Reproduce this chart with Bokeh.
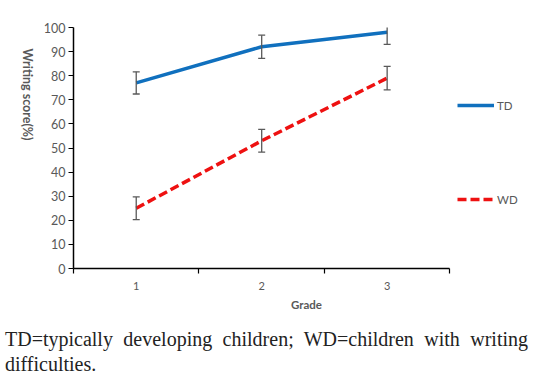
import math
from bokeh.plotting import figure
from bokeh.layouts import column, row
from bokeh.models import (ColumnDataSource, FixedTicker, Legend, LegendItem, Range1d, Div, Label)
from bokeh.embed import file_html
from bokeh.resources import INLINE

# ---- data ----
grades = [1, 2, 3]
grade_labels = ["1", "2", "3"]
td_scores = [77, 92, 98]
td_errors = [4.6, 4.8, 5.0]
wd_scores = [25, 53, 79]
wd_errors = [4.7, 4.7, 4.9]
y_ticks = [0, 10, 20, 30, 40, 50, 60, 70, 80, 90, 100]
series_names = ["TD", "WD"]
y_title = "Writing score(%)"
x_title = "Grade"
caption_text = "TD=typically developing children; WD=children with writing difficulties."

AX_FONT = "Lato"
GREY = "#595959"
BLUE = "#1070BE"
RED = "#EE1111"
W = 539
FIG_H = 322
TITLE_W = 40

# narrow strip holding the y-axis title (reads top to bottom)
t = figure(width=TITLE_W, height=FIG_H, output_backend="svg", toolbar_location=None,
           x_axis_type=None, y_axis_type=None,
           min_border_left=0, min_border_right=0, min_border_top=0, min_border_bottom=0)
t.outline_line_color = None
t.xgrid.visible = False
t.ygrid.visible = False
t.add_layout(Label(x=27, y=FIG_H - 148, x_units="screen", y_units="screen",
                   text=y_title, angle=-math.pi / 2,
                   text_align="center", text_baseline="middle",
                   text_font=AX_FONT, text_font_size="12.5px",
                   text_font_style="bold", text_color=GREY))

p = figure(width=W - TITLE_W, height=FIG_H, output_backend="svg", toolbar_location=None,
           x_range=Range1d(0.5, 3.5 + 90 / 126), y_range=Range1d(0, 100),
           min_border_left=71 - TITLE_W, min_border_right=0, min_border_top=27, min_border_bottom=54)
p.outline_line_color = None
p.xgrid.visible = False
p.ygrid.visible = False
p.background_fill_color = "white"
p.border_fill_color = "white"

def src(scores, errs):
    return ColumnDataSource(dict(
        x=grades, y=scores,
        lo=[s - e for s, e in zip(scores, errs)],
        hi=[s + e for s, e in zip(scores, errs)]))

td_src = src(td_scores, td_errors)
wd_src = src(wd_scores, wd_errors)

td_line = p.line("x", "y", source=td_src, line_color=BLUE, line_width=3.5)
wd_line = p.line("x", "y", source=wd_src, line_color=RED, line_width=3.5, line_dash="9 4")

for s in (td_src, wd_src):
    p.segment("x", "lo", "x", "hi", source=s, line_color=GREY, line_width=1.3)
    p.scatter("x", "lo", source=s, marker="dash", size=7, line_color=GREY, line_width=1.3)
    p.scatter("x", "hi", source=s, marker="dash", size=7, line_color=GREY, line_width=1.3)

# y axis
ya = p.yaxis[0]
ya.ticker = FixedTicker(ticks=y_ticks)
ya.axis_line_color = "black"
ya.axis_line_width = 1.5
ya.major_tick_line_color = "black"
ya.major_tick_line_width = 1.2
ya.major_tick_out = 5
ya.major_tick_in = 0
ya.minor_tick_line_color = None
ya.major_label_text_font = AX_FONT
ya.major_label_text_font_size = "12.5px"
ya.major_label_text_color = GREY
ya.major_label_standoff = 3

# x axis
xa = p.xaxis[0]
xa.ticker = FixedTicker(ticks=grades, minor_ticks=[0.5, 1.5, 2.5, 3.5])
xa.bounds = (0.5, 3.5)
xa.major_label_overrides = {g: l for g, l in zip(grades, grade_labels)}
xa.axis_line_color = "black"
xa.axis_line_width = 1.5
xa.major_tick_out = 0
xa.major_tick_in = 0
xa.major_tick_line_color = None
xa.minor_tick_line_color = "black"
xa.minor_tick_line_width = 1.2
xa.minor_tick_out = 5
xa.minor_tick_in = 0
xa.major_label_text_font = AX_FONT
xa.major_label_text_font_size = "11px"
xa.major_label_text_color = GREY
xa.major_label_standoff = 8
xa.axis_label = x_title
xa.axis_label_text_font = AX_FONT
xa.axis_label_text_font_size = "11.5px"
xa.axis_label_text_font_style = "bold"
xa.axis_label_text_color = GREY
xa.axis_label_standoff = 5

# legend (location = bottom-left corner, relative to the frame)
legend = Legend(items=[LegendItem(label=series_names[0], renderers=[td_line]),
                       LegendItem(label=series_names[1], renderers=[wd_line])],
                location=(384, 59), orientation="vertical",
                glyph_width=37, glyph_height=20, label_height=20,
                label_standoff=3, spacing=74, padding=0, margin=0,
                border_line_color=None, background_fill_alpha=0,
                label_text_font=AX_FONT, label_text_font_size="11.5px",
                label_text_color=GREY)
p.add_layout(legend, "center")

caption = Div(text=caption_text, width=W, height=377 - FIG_H,
              styles={"font-family": "'Liberation Serif', serif",
                      "font-size": "20px",
                      "line-height": "25px",
                      "color": "#222222",
                      "text-align": "justify",
                      "padding": "0px 16px 0px 0px",
                      "box-sizing": "border-box",
                      "width": f"{W}px"})

layout = column(row(t, p, spacing=0), caption, spacing=0)
open("out.html", "w").write(file_html(layout, INLINE))
